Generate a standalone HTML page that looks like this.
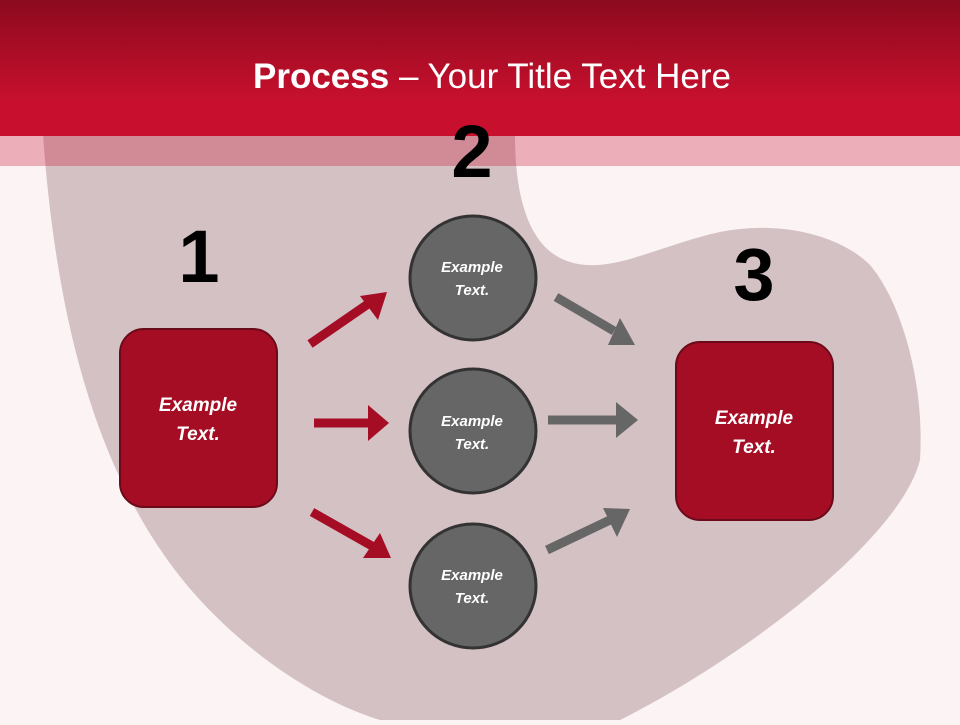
<!DOCTYPE html>
<html><head><meta charset="utf-8"><style>
body{margin:0;width:960px;height:720px;overflow:hidden;background:#fcf3f4;font-family:"Liberation Sans",sans-serif}
</style></head><body>
<svg width="960" height="720" viewBox="0 0 960 720" xmlns="http://www.w3.org/2000/svg">
<defs>
<linearGradient id="hd" x1="0" y1="0" x2="0" y2="1">
<stop offset="0" stop-color="#8c0a1e"/><stop offset="0.75" stop-color="#c8102e"/><stop offset="1" stop-color="#c8102e"/>
</linearGradient>
<marker id="ar" markerWidth="4" markerHeight="4" refX="2" refY="2" orient="auto"><path d="M0,0L4,2L0,4z" fill="#a50d25"/></marker>
</defs>
<path d="M43,135 C55,300 90,480 200,600 C260,665 330,705 380,720 L620,720 C740,660 900,540 920,460 C925,380 900,300 870,265 C840,235 780,220 720,232 C660,245 610,275 570,262 C530,250 515,200 515,135 Z" fill="#d4c1c4"/>
<rect x="0" y="0" width="960" height="136" fill="url(#hd)"/>
<rect x="0" y="136" width="960" height="30" fill="#c8102e" opacity="0.3"/>
<text x="492" y="88" text-anchor="middle" fill="#fff" font-size="35"><tspan font-weight="bold">Process</tspan> – Your Title Text Here</text>
<g font-weight="bold" font-size="74" fill="#000" text-anchor="middle" font-family="Liberation Sans,sans-serif">
<text x="199" y="282">1</text><text x="472" y="177">2</text><text x="754" y="300">3</text></g>
<rect x="120" y="329" width="157" height="178" rx="24" fill="#a50d25" stroke="#6b0a18" stroke-width="2"/>
<rect x="676" y="342" width="157" height="178" rx="24" fill="#a50d25" stroke="#6b0a18" stroke-width="2"/>
<g fill="#666" stroke="#333" stroke-width="3">
<ellipse cx="473" cy="278" rx="63" ry="62"/><ellipse cx="473" cy="431" rx="63" ry="62"/><ellipse cx="473" cy="586" rx="63" ry="62"/></g>
<g stroke="#a50d25" stroke-width="9" fill="none">
<line x1="310" y1="344" x2="368" y2="304"/><line x1="314" y1="423" x2="368" y2="423"/><line x1="312" y1="512" x2="372" y2="546"/></g>
<g fill="#a50d25">
<polygon points="387,292 378,320 360,296"/><polygon points="389,423 368,405 368,441"/><polygon points="391,558 363,558 380,533"/></g>
<g stroke="#666" stroke-width="9" fill="none">
<line x1="556" y1="297" x2="614" y2="331"/><line x1="548" y1="420" x2="616" y2="420"/><line x1="547" y1="550" x2="610" y2="520"/></g>
<g fill="#666">
<polygon points="635,345 608,345 620,318"/><polygon points="638,420 616,402 616,438"/><polygon points="630,509 617,537 603,508"/></g>
<g fill="#fff" font-style="italic" font-weight="bold" text-anchor="middle">
<text x="198" y="411" font-size="19">Example</text><text x="198" y="440" font-size="19">Text.</text>
<text x="754" y="424" font-size="19">Example</text><text x="754" y="453" font-size="19">Text.</text>
<text x="472" y="272" font-size="15">Example</text><text x="472" y="295" font-size="15">Text.</text>
<text x="472" y="426" font-size="15">Example</text><text x="472" y="449" font-size="15">Text.</text>
<text x="472" y="580" font-size="15">Example</text><text x="472" y="603" font-size="15">Text.</text>
</g>
</svg>
</body></html>
